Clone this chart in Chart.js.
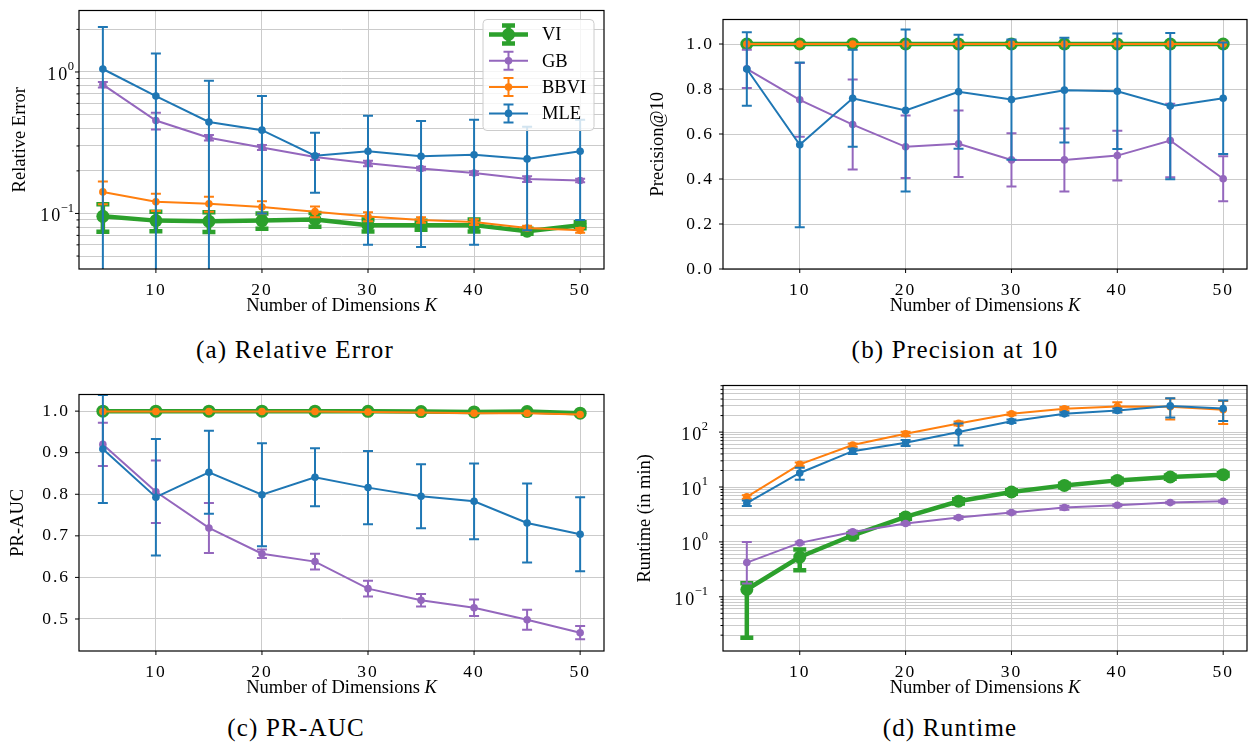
<!DOCTYPE html>
<html>
<head>
<meta charset="utf-8">
<script src="https://cdn.jsdelivr.net/npm/chart.js@4.4.0/dist/chart.umd.min.js"></script>
<style>
    body { margin: 0; background: #fff; width: 1255px; height: 743px; position: relative; overflow: hidden; font-family: "Liberation Serif", serif; }
    canvas { position: absolute; }
    .cap { position: absolute; font-size: 25px; letter-spacing: 1.2px; transform: translate(-50%, -50%); white-space: nowrap; line-height: 1; color: #000; }
</style>
</head>
<body>
<canvas id="relErr" width="627" height="320" style="left:0;top:0"></canvas>
<canvas id="prec" width="628" height="320" style="left:627px;top:0"></canvas>
<canvas id="auc" width="627" height="325" style="left:0;top:375px"></canvas>
<canvas id="runtime" width="628" height="325" style="left:627px;top:375px"></canvas>
<div class="cap" style="left:295px;top:349px">(a) Relative Error</div>
<div class="cap" style="left:955px;top:349px">(b) Precision at 10</div>
<div class="cap" style="left:296px;top:727px">(c) PR-AUC</div>
<div class="cap" style="left:950px;top:727px">(d) Runtime</div>
<script>
const dims = [5, 10, 15, 20, 25, 30, 35, 40, 45, 50];
const xTicks = [10, 20, 30, 40, 50];
const methods = ['VI', 'GB', 'BBVI', 'MLE'];

// (a) relative error, mean and error bar half widths
const relErrVI = [0.0954, 0.089, 0.088, 0.089, 0.0906, 0.0827, 0.0827, 0.0827, 0.075, 0.0825];
const relErrVIErr = [0.021, 0.014, 0.014, 0.011, 0.01, 0.008, 0.006, 0.008, 0.003, 0.004];
const relErrGB = [0.813, 0.454, 0.343, 0.293, 0.251, 0.226, 0.208, 0.193, 0.175, 0.171];
const relErrGBErr = [0.035, 0.062, 0.015, 0.012, 0.012, 0.01, 0.006, 0.006, 0.008, 0.005];
const relErrBBVI = [0.142, 0.121, 0.117, 0.111, 0.103, 0.095, 0.09, 0.087, 0.079, 0.076];
const relErrBBVIErr = [0.026, 0.017, 0.014, 0.011, 0.009, 0.007, 0.004, 0.004, 0.003, 0.003];
const relErrMLE = [1.05, 0.676, 0.443, 0.388, 0.256, 0.275, 0.254, 0.26, 0.243, 0.275];
const relErrMLEErr = [1.03, 0.675, 0.424, 0.288, 0.116, 0.215, 0.196, 0.2, 0.167, 0.185];
const relErrTicks = [0.05, 0.06, 0.07, 0.08, 0.09, 0.1, 0.2, 0.3, 0.4, 0.5, 0.6, 0.7, 0.8, 0.9, 1, 2];

// (b) precision at 10
const precVI = [1, 1, 1, 1, 1, 1, 1, 1, 1, 1];
const precBBVI = [1, 1, 1, 1, 1, 1, 1, 1, 1, 1];
const precGB = [0.89, 0.752, 0.642, 0.543, 0.557, 0.485, 0.485, 0.504, 0.571, 0.401];
const precGBErr = [0.085, 0.164, 0.2, 0.139, 0.148, 0.118, 0.14, 0.111, 0.163, 0.1];
const precMLE = [0.889, 0.552, 0.759, 0.705, 0.788, 0.753, 0.795, 0.79, 0.724, 0.759];
const precMLEErr = [0.163, 0.366, 0.216, 0.36, 0.253, 0.267, 0.233, 0.257, 0.325, 0.248];
const precTicks = [0, 0.2, 0.4, 0.6, 0.8, 1.0];

// (c) PR-AUC
const aucVI = [1.0, 1.0, 1.0, 1.0, 1.0, 0.9995, 0.999, 0.998, 0.999, 0.995];
const aucBBVI = [0.999, 0.999, 0.999, 0.999, 0.999, 0.998, 0.997, 0.995, 0.995, 0.992];
const aucGB = [0.92, 0.806, 0.719, 0.657, 0.638, 0.573, 0.545, 0.527, 0.498, 0.467];
const aucGBErr = [0.052, 0.075, 0.06, 0.01, 0.019, 0.019, 0.015, 0.02, 0.024, 0.016];
const aucMLE = [0.909, 0.793, 0.853, 0.799, 0.841, 0.816, 0.795, 0.783, 0.731, 0.704];
const aucMLEErr = [0.13, 0.14, 0.1, 0.124, 0.07, 0.088, 0.077, 0.091, 0.095, 0.089];
const aucTicks = [0.5, 0.6, 0.7, 0.8, 0.9, 1.0];

// (d) runtime in minutes; [down, up] where the bar is not symmetric
const timeVI = [0.136, 0.53, 1.32, 2.85, 5.5, 8.1, 10.7, 13.2, 15.2, 16.8];
const timeVIErr = [[0.118, 0.04], [0.225, 0.2], 0.1, 0.2, 0.5, 0.6, 0.8, 1, 1, 1];
const timeGB = [0.42, 0.96, 1.52, 2.16, 2.77, 3.42, 4.22, 4.64, 5.2, 5.5];
const timeGBErr = [[0.245, 0.58], 0.05, 0.1, 0.1, 0.15, 0.15, 0.35, 0.2, 0.2, 0.2];
const timeBBVI = [6.6, 25.9, 58, 93, 144, 215, 266, 293, 290, 255];
const timeBBVIErr = [0.5, 2, 4, 8, 12, 12, 20, 55, 120, 115];
const timeMLE = [5.1, 18, 45, 64, 100, 158, 215, 248, 300, 268];
const timeMLEErr = [0.6, 4.5, 5, 8, 43, 12, 15, 20, 115, 108];
const timeTicks = [0.02, 0.03, 0.04, 0.05, 0.06, 0.07, 0.08, 0.09, 0.1, 0.2, 0.3, 0.4, 0.5, 0.6, 0.7, 0.8, 0.9,
    1, 2, 3, 4, 5, 6, 7, 8, 9, 10, 20, 30, 40, 50, 60, 70, 80, 90, 100, 200, 300, 400, 500, 600, 700];

const colors = { VI: '#2ca02c', GB: '#9467bd', BBVI: '#ff7f0e', MLE: '#1f77b4' };
const gridColor = '#cbcbcb';
const serif = '"Liberation Serif", "DejaVu Serif", serif';
const xTitle = 'Number of Dimensions ';
const xTitleVar = 'K';
const tickSpacing = '2px';

function isPow10(v) {
    const l = Math.log10(v);
    return Math.abs(l - Math.round(l)) < 1e-9;
}

function series(label, values, errs) {
    const thick = label === 'VI';
    return {
        label: label,
        data: dims.map((x, i) => ({ x: x, y: values[i] })),
        errs: errs,
        borderColor: colors[label],
        backgroundColor: colors[label],
        borderWidth: thick ? 4.5 : 2,
        pointRadius: thick ? 6.5 : 3.8,
        pointBorderWidth: 0,
        capHalf: thick ? 6.5 : 5,
        order: 3 - methods.indexOf(label)
    };
}

// error bars are drawn right after their own line so later series cover them
const errorBars = {
    id: 'errorBars',
    afterDatasetDraw(chart, args) {
        const ds = chart.data.datasets[args.index];
        if (!ds.errs) return;
        const ctx = chart.ctx;
        const a = chart.chartArea;
        const xs = chart.scales.x, ys = chart.scales.y;
        ctx.save();
        ctx.beginPath();
        ctx.rect(a.left, a.top, a.right - a.left, a.bottom - a.top);
        ctx.clip();
        ctx.strokeStyle = ds.borderColor;
        ctx.lineWidth = ds.borderWidth;
        ds.data.forEach((p, i) => {
            const e = ds.errs[i];
            const [dn, up] = Array.isArray(e) ? e : [e, e];
            if (!dn && !up) return;
            const px = xs.getPixelForValue(p.x);
            const lo = p.y - dn;
            const yHi = ys.getPixelForValue(p.y + up);
            const yLo = (lo <= 0 && ys.type === 'logarithmic') ? a.bottom + 20 : ys.getPixelForValue(lo);
            ctx.beginPath();
            ctx.moveTo(px, yLo);
            ctx.lineTo(px, yHi);
            ctx.moveTo(px - ds.capHalf, yHi);
            ctx.lineTo(px + ds.capHalf, yHi);
            ctx.moveTo(px - ds.capHalf, yLo);
            ctx.lineTo(px + ds.capHalf, yLo);
            ctx.stroke();
        });
        ctx.restore();
    }
};

// box round the axes, tick marks, power-of-ten labels and the x title with an italic K
const frame = {
    id: 'frame',
    afterDatasetsDraw(chart, args, opts) {
        const ctx = chart.ctx;
        const a = chart.chartArea;
        const xs = chart.scales.x, ys = chart.scales.y;
        ctx.save();
        ctx.strokeStyle = '#000';
        ctx.lineWidth = 1.2;
        ctx.strokeRect(a.left, a.top, a.right - a.left, a.bottom - a.top);
        ctx.lineWidth = 1;
        ctx.beginPath();
        xs.ticks.forEach(t => {
            const px = xs.getPixelForValue(t.value);
            ctx.moveTo(px, a.bottom);
            ctx.lineTo(px, a.bottom + 4);
        });
        ys.ticks.forEach(t => {
            const py = ys.getPixelForValue(t.value);
            const len = (ys.type === 'logarithmic' && !t.major) ? 2.5 : 4;
            ctx.moveTo(a.left - len, py);
            ctx.lineTo(a.left, py);
        });
        ctx.stroke();

        ctx.fillStyle = '#000';
        ctx.textBaseline = 'middle';
        if (ys.type === 'logarithmic') {
            ys.ticks.filter(t => t.major).forEach(t => {
                const py = ys.getPixelForValue(t.value);
                const exp = String(Math.round(Math.log10(t.value))).replace('-', '\u2212');
                const xr = a.left - opts.labelGap;
                ctx.textAlign = 'right';
                ctx.letterSpacing = '0px';
                ctx.font = '12.5px ' + serif;
                const we = ctx.measureText(exp).width;
                ctx.fillText(exp, xr, py - 5);
                ctx.font = '18px ' + serif;
                ctx.letterSpacing = tickSpacing;
                ctx.fillText('10', xr - we + 1.5, py + 3);
            });
            ctx.letterSpacing = '0px';
        }

        const f1 = '18.5px ' + serif, f2 = 'italic 18.5px ' + serif;
        ctx.textAlign = 'left';
        ctx.font = f1;
        const w1 = ctx.measureText(xTitle).width;
        ctx.font = f2;
        const w2 = ctx.measureText(xTitleVar).width;
        const tx = (a.left + a.right) / 2 - (w1 + w2) / 2;
        const ty = a.bottom + 37;
        ctx.font = f1;
        ctx.fillText(xTitle, tx, ty);
        ctx.font = f2;
        ctx.fillText(xTitleVar, tx + w1, ty);
        ctx.restore();
    }
};

const legendBox = {
    id: 'legendBox',
    afterDraw(chart, args, opts) {
        if (!opts.show) return;
        const ctx = chart.ctx;
        const a = chart.chartArea;
        const x0 = a.right - 121, y0 = a.top + 9;
        ctx.save();
        ctx.fillStyle = 'rgba(255,255,255,0.8)';
        ctx.strokeStyle = '#cccccc';
        ctx.lineWidth = 1;
        ctx.beginPath();
        ctx.roundRect(x0, y0, 111, 111, 4);
        ctx.fill();
        ctx.stroke();
        methods.forEach((m, i) => {
            const ds = chart.data.datasets.find(d => d.label === m);
            const cy = y0 + 15 + i * 26.3;
            const cx = x0 + 25.5;
            ctx.strokeStyle = ds.borderColor;
            ctx.fillStyle = ds.borderColor;
            ctx.lineWidth = ds.borderWidth;
            ctx.beginPath();
            ctx.moveTo(x0 + 6, cy);
            ctx.lineTo(x0 + 45, cy);
            ctx.moveTo(cx, cy - 9);
            ctx.lineTo(cx, cy + 9);
            ctx.moveTo(cx - ds.capHalf, cy - 9);
            ctx.lineTo(cx + ds.capHalf, cy - 9);
            ctx.moveTo(cx - ds.capHalf, cy + 9);
            ctx.lineTo(cx + ds.capHalf, cy + 9);
            ctx.stroke();
            ctx.beginPath();
            ctx.arc(cx, cy, ds.pointRadius, 0, Math.PI * 2);
            ctx.fill();
            ctx.fillStyle = '#000';
            ctx.font = '18.5px ' + serif;
            ctx.textAlign = 'left';
            ctx.textBaseline = 'middle';
            ctx.fillText(m, x0 + 59, cy + 1);
        });
        ctx.restore();
    }
};

// tick labels in the figure are a little spaced out
const spacedTicks = {
    id: 'spacedTicks',
    beforeDraw(chart) {
        Object.values(chart.scales).forEach(s => {
            if (s._spaced) return;
            const draw = s.drawLabels.bind(s);
            s.drawLabels = area => {
                chart.ctx.save();
                chart.ctx.letterSpacing = tickSpacing;
                draw(area);
                chart.ctx.restore();
            };
            s._spaced = true;
        });
    }
};

const tickFont = { family: serif, size: 17.5 };

function makePanel(id, p) {
    const yAxis = {
        type: p.log ? 'logarithmic' : 'linear',
        min: p.min,
        max: p.max,
        afterBuildTicks: s => { s.ticks = p.ticks.map(v => ({ value: v, major: p.log ? isPow10(v) : true })); },
        afterFit: s => { s.width = p.yw; },
        grid: { color: gridColor, lineWidth: 1, drawTicks: false },
        border: { display: false },
        ticks: {
            autoSkip: false,
            padding: p.tickPad,
            color: '#000',
            font: tickFont,
            callback: v => p.log ? '' : Number(v).toFixed(1)
        },
        title: {
            display: true, text: p.title, color: '#000',
            font: { family: serif, size: 18.5 },
            padding: { top: p.titlePad, bottom: 0 }
        }
    };
    return new Chart(document.getElementById(id), {
        type: 'line',
        data: { datasets: p.datasets },
        options: {
            responsive: false,
            animation: false,
            events: [],
            layout: { padding: { left: 0, top: p.top, right: p.right, bottom: 0 } },
            scales: {
                x: {
                    type: 'linear', min: 2.75, max: 52.25,
                    afterBuildTicks: s => { s.ticks = xTicks.map(v => ({ value: v })); },
                    afterFit: s => { s.height = p.xh; },
                    grid: { color: gridColor, lineWidth: 1, drawTicks: false },
                    border: { display: false },
                    ticks: { autoSkip: false, maxRotation: 0, padding: 11, color: '#000', font: tickFont, callback: v => String(v) }
                },
                y: yAxis
            },
            plugins: {
                legend: { display: false },
                tooltip: { enabled: false },
                legendBox: { show: !!p.legend },
                frame: { labelGap: p.labelGap || 0 }
            }
        },
        plugins: [errorBars, frame, legendBox, spacedTicks]
    });
}

window.addEventListener('load', () => {
    makePanel('relErr', {
        log: true, min: 0.0405, max: 2.72, ticks: relErrTicks, title: 'Relative Error',
        yw: 79, right: 23, top: 4, xh: 51, tickPad: 0, titlePad: 9, labelGap: 5, legend: true,
        datasets: [
            series('VI', relErrVI, relErrVIErr),
            series('GB', relErrGB, relErrGBErr),
            series('BBVI', relErrBBVI, relErrBBVIErr),
            series('MLE', relErrMLE, relErrMLEErr)
        ]
    });
    makePanel('prec', {
        log: false, min: 0, max: 1.109, ticks: precTicks, title: 'Precision@10',
        yw: 96, right: 8, top: 4, xh: 51, tickPad: 9, titlePad: 20,
        datasets: [
            series('VI', precVI, null),
            series('GB', precGB, precGBErr),
            series('BBVI', precBBVI, null),
            series('MLE', precMLE, precMLEErr)
        ]
    });
    makePanel('auc', {
        log: false, min: 0.423, max: 1.04, ticks: aucTicks, title: 'PR-AUC',
        yw: 79, right: 23, top: 10, xh: 49, tickPad: 9, titlePad: 7,
        datasets: [
            series('VI', aucVI, null),
            series('GB', aucGB, aucGBErr),
            series('BBVI', aucBBVI, null),
            series('MLE', aucMLE, aucMLEErr)
        ]
    });
    makePanel('runtime', {
        log: true, min: 0.0103, max: 706, ticks: timeTicks, title: 'Runtime (in min)',
        yw: 96, right: 8, top: 10, xh: 49, tickPad: 0, titlePad: 7, labelGap: 15,
        datasets: [
            series('VI', timeVI, timeVIErr),
            series('GB', timeGB, timeGBErr),
            series('BBVI', timeBBVI, timeBBVIErr),
            series('MLE', timeMLE, timeMLEErr)
        ]
    });
});
</script>
</body>
</html>
